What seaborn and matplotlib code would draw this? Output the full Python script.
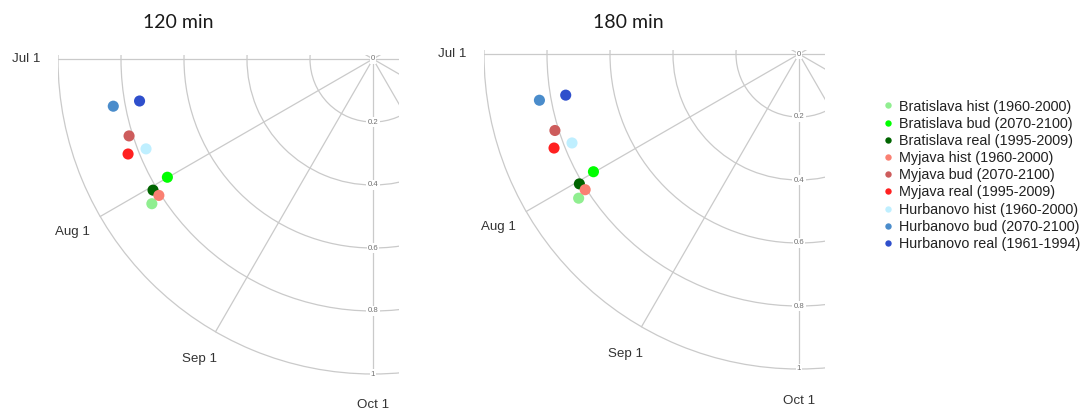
import numpy as np
import pandas as pd
import seaborn as sns
import matplotlib.pyplot as plt
from matplotlib.patches import Rectangle
from matplotlib.lines import Line2D

sns.set_theme(style="white")
plt.rcParams['font.family'] = ['Liberation Sans', 'DejaVu Sans']

# Stations / periods
series = [
    "Bratislava hist (1960-2000)",
    "Bratislava bud (2070-2100)",
    "Bratislava real (1995-2009)",
    "Myjava hist (1960-2000)",
    "Myjava bud (2070-2100)",
    "Myjava real (1995-2009)",
    "Hurbanovo hist (1960-2000)",
    "Hurbanovo bud (2070-2100)",
    "Hurbanovo real (1961-1994)",
]
colors = ["#90EE90", "#00FF00", "#006400",
          "#FA8072", "#CD5C5C", "#FF2020",
          "#BFEFFF", "#4A8CCB", "#2F4FCC"]

# Mean date of occurrence as an angle (Jan 1 = 0 deg, 30 deg per month)
# and mean resultant length (seasonality strength)
dir_120 = [213.2, 209.9, 210.8, 212.5, 197.5, 201.2, 201.6, 190.3, 190.2]
len_120 = [0.839, 0.753, 0.813, 0.806, 0.812, 0.834, 0.775, 0.838, 0.753]
dir_180 = [213.2, 209.8, 210.6, 212.4, 197.4, 201.0, 201.4, 190.1, 190.0]
len_180 = [0.836, 0.752, 0.810, 0.804, 0.812, 0.833, 0.774, 0.837, 0.752]

titles = ["120 min", "180 min"]
month_labels = ["Jul 1", "Aug 1", "Sep 1", "Oct 1"]
month_angles = [180, 210, 240, 270]
r_ticks = [0, 0.2, 0.4, 0.6, 0.8, 1.0]
r_tick_labels = ["0", "0.2", "0.4", "0.6", "0.8", "1"]

W, H = 1089, 412
fig = plt.figure(figsize=(W / 100, H / 100), dpi=100)
palette = dict(zip(series, colors))

# pole position (pixels from top-left) and radius of each panel
panels = [
    dict(cx=373, cy=59, title_x=178, dirs=dir_120, lens=len_120),
    dict(cx=799, cy=54, title_x=628, dirs=dir_180, lens=len_180),
]
R = 315
grid_col = "#cacaca"

axes = []
for p, title in zip(panels, titles):
    left = (p["cx"] - R) / W
    bottom = (H - p["cy"] - R) / H
    ax = fig.add_axes([left, bottom, 2 * R / W, 2 * R / H], projection="polar")
    ax.patch.set_visible(False)
    ax.spines["polar"].set_visible(False)

    df = pd.DataFrame({"series": series,
                       "theta": np.deg2rad(p["dirs"]),
                       "r": p["lens"]})
    sns.scatterplot(data=df, x="theta", y="r", hue="series", palette=palette,
                    hue_order=series, s=64, edgecolor="none", linewidth=0,
                    legend=False, ax=ax, zorder=3)
    ax.set_xlabel("")
    ax.set_ylabel("")
    ax.set_xlim(0, 2 * np.pi)
    ax.set_ylim(0, 1.0)
    ax.set_thetagrids(np.arange(0, 360, 30), labels=[])
    ax.set_rgrids([0.2, 0.4, 0.6, 0.8, 1.0], labels=[])
    ax.grid(True, color=grid_col, linewidth=0.9)
    ax.tick_params(length=0)

    for r, lab in zip(r_ticks, r_tick_labels):
        ax.text(np.deg2rad(270), r, lab, ha="center", va="center",
                fontsize=5.6, color="#707070", zorder=4,
                bbox=dict(boxstyle="square,pad=0.15", fc="white", ec="none"))
    for a, lab in zip(month_angles, month_labels):
        ax.text(np.deg2rad(a), 1.1, lab, ha="center", va="center",
                fontsize=9.6, color="#333333")

    fig.text(p["title_x"] / W, 1 - 22 / H, title, ha="center", va="center",
             fontsize=14, color="#1a1a1a", family=["Lato", "DejaVu Sans"])
    axes.append(ax)

# show only the quadrant around the pole
fig.canvas.draw()
for ax in axes:
    clip = Rectangle((0, -0.01), 0.541, 0.516, transform=ax.transAxes)
    ax.xaxis.set_clip_path(clip)
    ax.yaxis.set_clip_path(clip)

handles = [Line2D([], [], marker="o", linestyle="", markersize=4.6,
                  markerfacecolor=c, markeredgewidth=0) for c in colors]
fig.legend(handles, series, loc="upper left",
           bbox_to_anchor=(882 / W, 1 - 99.5 / H),
           frameon=False, borderpad=0, borderaxespad=0,
           handlelength=0.8, handletextpad=0.41, labelspacing=0.22,
           fontsize=10.4, labelcolor="#222222")

fig.savefig("out.png", dpi=100)
